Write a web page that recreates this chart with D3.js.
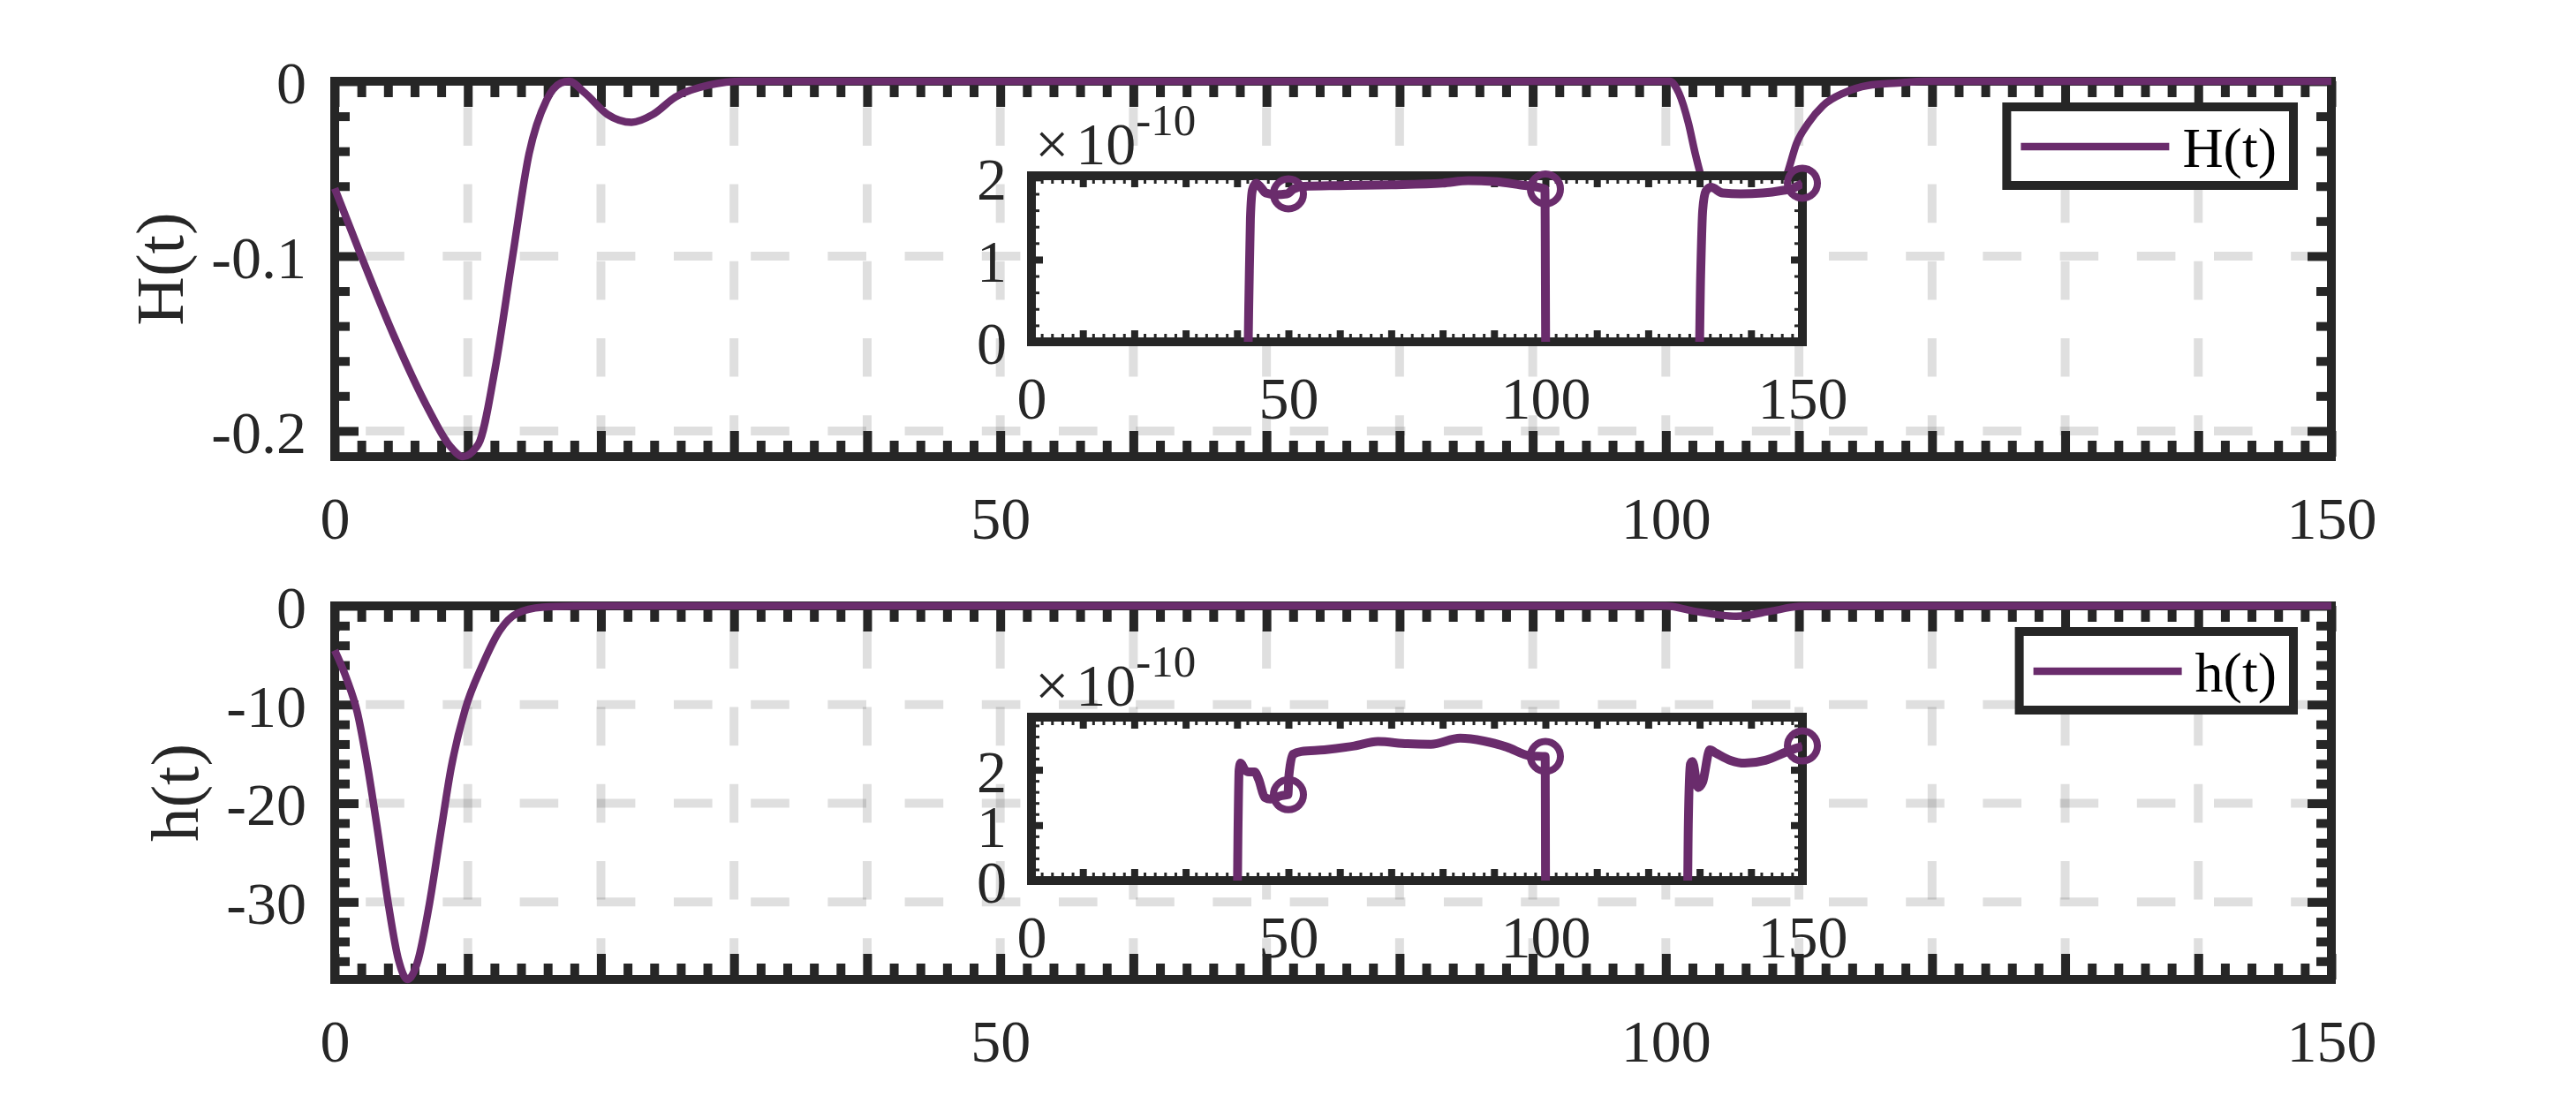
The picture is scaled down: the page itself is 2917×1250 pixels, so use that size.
<!DOCTYPE html>
<html>
<head>
<meta charset="utf-8">
<script src="https://cdn.jsdelivr.net/npm/d3@7/dist/d3.min.js"></script>
<style>
  body { margin: 0; background: #fff; }
  svg { display: block; font-family: "Liberation Serif", "Times New Roman", serif; }
</style>
</head>
<body>
<svg id="chart" width="2917" height="1250"></svg>
<script>
// ---- data ----
// H(t), main axes
const tH = [0, 1.93, 4.47, 7.0, 8.7, 9.62, 10.8, 12.06, 13.35, 14.6, 15.9, 17.0, 17.6, 18.8, 20.5, 22.3, 23.9, 25.6, 28.1, 30.7,
  100.3, 101.0, 101.7, 102.2, 102.6, 104, 106, 108, 109.2, 109.8, 110.7, 111.8, 113.4, 115.2, 117.4, 119.5, 150];
const valH = [-0.0612, -0.0988, -0.146, -0.187, -0.209, -0.2147, -0.2075, -0.164, -0.101, -0.0415, -0.011, -0.001, 0, -0.0067, -0.019, -0.0235, -0.019, -0.009, -0.0022, 0,
  0, -0.007, -0.024, -0.041, -0.053, -0.08, -0.09, -0.075, -0.051, -0.036, -0.024, -0.014, -0.0066, -0.0024, -0.001, 0, 0];

// H(t), inset (units of 1e-10)
const tHin = [0, 42.0, 42.3, 42.6, 43.0, 43.7, 44.6, 45.6, 47.5, 49.7, 51.0, 53.0, 60, 70, 80, 85, 90, 95, 99.9, 100.1,
  129.8, 130.2, 130.6, 131.2, 132.2, 134.5, 138, 142.3, 146, 148.3, 150];
const valHin = [-0.5, -0.5, 0.5, 1.5, 1.85, 1.93, 1.88, 1.81, 1.79, 1.80, 1.86, 1.89, 1.90, 1.91, 1.93, 1.96, 1.95, 1.91, 1.86, -0.5,
  -0.5, 0.8, 1.6, 1.83, 1.88, 1.81, 1.80, 1.81, 1.84, 1.87, 1.93];

// h(t), main axes
const th = [0, 0.9, 1.7, 2.45, 3.25, 4.04, 4.8, 5.47, 6.26, 7.05, 7.96, 8.75, 9.8, 11.1, 12.4, 13.7, 15.6, 18, 20,
  100, 102, 105.3, 108, 110, 112, 150];
const valh = [-4.5, -7.4, -10.8, -16.1, -23.0, -30.3, -35.9, -37.85, -35.9, -30.7, -23.0, -16.4, -10.5, -6.0, -2.5, -0.76, -0.13, -0.02, 0,
  0, -0.5, -1.05, -0.5, -0.05, 0, 0];

// h(t), inset (units of 1e-10)
const thin = [0, 40.0, 40.2, 40.4, 40.7, 41.5, 42.3, 43.4, 44.2, 45.4, 46.5, 48.5, 49.9, 50.1, 50.9, 52.5, 57, 62.8, 67.4, 73.1, 77.7, 83.4, 88, 92.5, 97.1, 99.95, 100.05,
  127.6, 127.8, 128.2, 128.6, 129.7, 130.6, 132.0, 133.2, 136, 138.8, 142.8, 146.8, 150];
const valhin = [-0.5, -0.5, 1.0, 2.0, 2.12, 2.0, 1.96, 1.96, 1.83, 1.50, 1.47, 1.53, 1.55, 1.9, 2.28, 2.33, 2.36, 2.43, 2.51, 2.47, 2.46, 2.57, 2.52, 2.41, 2.25, 2.24, -0.5,
  -0.5, 1.0, 2.1, 2.15, 1.68, 1.78, 2.36, 2.3, 2.17, 2.12, 2.17, 2.32, 2.43];

// circle markers on the insets
const markT = [50, 100, 150];
const markH = [1.80, 1.86, 1.93];
const markh = [1.55, 2.24, 2.43];

// ticks / labels
const xLabels = [0, 50, 100, 150];
const yTicksH = [0, -0.1, -0.2];
const yTicksh = [0, -10, -20, -30];
const yTicksIn = [0, 1, 2];

const purple = "#6a2c6c";
const ink = "#262626";
const svg = d3.select("#chart");

const left = 379, right = 2640;
const x = d3.scaleLinear().domain([0, 150]).range([left, right]);
const xMajor = d3.range(0, 151, 10);
const xMinor = d3.range(0, 151, 2).filter((d) => d % 10 !== 0);
const fmt = (d) => (xLabels.includes(d) ? String(d) : "");

function styleAxis(g, width) {
  g.select(".domain").remove();
  g.selectAll(".tick line").attr("stroke", ink).attr("stroke-width", width);
  g.selectAll(".tick text")
    .attr("fill", ink)
    .attr("font-size", 68)
    .attr("font-family", "Liberation Serif");
}

function drawPanel(cfg) {
  const panel = svg.append("g");
  const y = d3.scaleLinear().domain(cfg.yDomain).range([cfg.bottom, cfg.top]);

  // grid
  const grid = panel.append("g")
    .attr("stroke", ink)
    .attr("stroke-opacity", 0.15)
    .attr("stroke-width", 10)
    .attr("stroke-dasharray", "43.6 43.6");
  grid.selectAll(".gx")
    .data(xMajor.slice(1, -1))
    .join("line")
    .attr("x1", (d) => x(d)).attr("x2", (d) => x(d))
    .attr("y1", cfg.bottom).attr("y2", cfg.top)
    .attr("stroke-dashoffset", 84);
  grid.selectAll(".gy")
    .data(cfg.yTicks.filter((d) => d !== 0))
    .join("line")
    .attr("x1", left).attr("x2", right)
    .attr("y1", (d) => y(d)).attr("y2", (d) => y(d))
    .attr("stroke-dashoffset", 52);

  // ticks (inward, on all four sides)
  const gb = panel.append("g").attr("transform", `translate(0,${cfg.bottom})`);
  gb.call(d3.axisBottom(x).tickValues(xMinor).tickSize(-18).tickFormat(""));
  gb.call((g) => styleAxis(g, 10));
  const gbM = panel.append("g").attr("transform", `translate(0,${cfg.bottom})`);
  gbM.call(d3.axisBottom(x).tickValues(xMajor).tickSize(-29).tickPadding(45).tickFormat(fmt));
  gbM.call((g) => styleAxis(g, 10));

  const gt = panel.append("g").attr("transform", `translate(0,${cfg.top})`);
  gt.call(d3.axisTop(x).tickValues(xMinor).tickSize(-18).tickFormat(""));
  gt.call((g) => styleAxis(g, 10));
  const gtM = panel.append("g").attr("transform", `translate(0,${cfg.top})`);
  gtM.call(d3.axisTop(x).tickValues(xMajor).tickSize(-29).tickFormat(""));
  gtM.call((g) => styleAxis(g, 10));

  const gl = panel.append("g").attr("transform", `translate(${left},0)`);
  gl.call(d3.axisLeft(y).tickValues(cfg.yMinor).tickSize(-17).tickFormat(""));
  gl.call((g) => styleAxis(g, 10));
  const glM = panel.append("g").attr("transform", `translate(${left},0)`);
  glM.call(d3.axisLeft(y).tickValues(cfg.yTicks).tickSize(-27).tickPadding(32).tickFormat((d) => String(d)));
  glM.call((g) => styleAxis(g, 10));
  glM.selectAll(".tick text").attr("dy", "0.36em");

  const gr = panel.append("g").attr("transform", `translate(${right},0)`);
  gr.call(d3.axisRight(y).tickValues(cfg.yMinor).tickSize(-17).tickFormat(""));
  gr.call((g) => styleAxis(g, 10));
  const grM = panel.append("g").attr("transform", `translate(${right},0)`);
  grM.call(d3.axisRight(y).tickValues(cfg.yTicks).tickSize(-27).tickFormat(""));
  grM.call((g) => styleAxis(g, 10));

  // frame
  panel.append("rect")
    .attr("x", left).attr("y", cfg.top)
    .attr("width", right - left).attr("height", cfg.bottom - cfg.top)
    .attr("fill", "none").attr("stroke", ink).attr("stroke-width", 10)
    .attr("stroke-linejoin", "miter");

  // y label
  const lbLeft = d3.min(glM.selectAll(".tick text").nodes(), (n) => n.getBBox().x) + left;
  panel.append("text")
    .attr("transform", `translate(${lbLeft - 32},${(cfg.top + cfg.bottom) / 2}) rotate(-90)`)
    .attr("text-anchor", "middle")
    .attr("font-size", 77)
    .attr("fill", ink)
    .text(cfg.label);

  // main curve
  const line = d3.line().x((d, i) => x(cfg.t[i])).y((d) => y(d)).curve(d3.curveMonotoneX);
  panel.append("path")
    .attr("d", line(cfg.v))
    .attr("fill", "none").attr("stroke", purple).attr("stroke-width", 8.5)
    .attr("stroke-linejoin", "round");

  // legend
  const lg = panel.append("g");
  const boxRight = right - 43, boxTop = cfg.top + 29;
  const lgText = lg.append("text")
    .attr("font-size", 64).attr("fill", "#000")
    .attr("y", boxTop + 68)
    .text(cfg.label);
  const tw = lgText.node().getComputedTextLength();
  const textStart = boxRight - 19 - tw;
  lgText.attr("x", textStart);
  const lineEnd = textStart - 15, lineStart = lineEnd - 168;
  lg.insert("rect", "text")
    .attr("x", lineStart - 16).attr("y", boxTop)
    .attr("width", boxRight - lineStart + 16).attr("height", 89)
    .attr("fill", "#fff").attr("stroke", ink).attr("stroke-width", 10);
  lg.append("line")
    .attr("x1", lineStart).attr("x2", lineEnd)
    .attr("y1", boxTop + 45).attr("y2", boxTop + 45)
    .attr("stroke", purple).attr("stroke-width", 8.5);

  drawInset(panel, cfg.inset);
}

function drawInset(panel, ins) {
  const iL = 1168, iR = 2041;
  const xi = d3.scaleLinear().domain([0, 150]).range([iL, iR]);
  const yi = d3.scaleLinear().domain([0, ins.yMax]).range([ins.bottom, ins.top]);
  const g = panel.append("g");
  g.append("rect")
    .attr("x", iL).attr("y", ins.top)
    .attr("width", iR - iL).attr("height", ins.bottom - ins.top)
    .attr("fill", "#fff");

  const yMinor = d3.range(0, ins.yMax, 0.2).filter((d) => Math.abs(d - Math.round(d)) > 1e-6);

  const b1 = g.append("g").attr("transform", `translate(0,${ins.bottom})`)
    .call(d3.axisBottom(xi).tickValues(xMinor).tickSize(-9).tickFormat(""));
  styleAxis(b1, 3);
  const b2 = g.append("g").attr("transform", `translate(0,${ins.bottom})`)
    .call(d3.axisBottom(xi).tickValues(xMajor).tickSize(-13).tickPadding(39).tickFormat(fmt));
  styleAxis(b2, 8);
  const t1 = g.append("g").attr("transform", `translate(0,${ins.top})`)
    .call(d3.axisTop(xi).tickValues(xMinor).tickSize(-9).tickFormat(""));
  styleAxis(t1, 3);
  const t2 = g.append("g").attr("transform", `translate(0,${ins.top})`)
    .call(d3.axisTop(xi).tickValues(xMajor).tickSize(-13).tickFormat(""));
  styleAxis(t2, 8);
  const l1 = g.append("g").attr("transform", `translate(${iL},0)`)
    .call(d3.axisLeft(yi).tickValues(yMinor).tickSize(-9).tickFormat(""));
  styleAxis(l1, 3);
  const l2 = g.append("g").attr("transform", `translate(${iL},0)`)
    .call(d3.axisLeft(yi).tickValues(yTicksIn).tickSize(-13).tickPadding(28).tickFormat((d) => String(d)));
  styleAxis(l2, 8);
  l2.selectAll(".tick text").attr("dy", "0.36em");
  const r1 = g.append("g").attr("transform", `translate(${iR},0)`)
    .call(d3.axisRight(yi).tickValues(yMinor).tickSize(-9).tickFormat(""));
  styleAxis(r1, 3);
  const r2 = g.append("g").attr("transform", `translate(${iR},0)`)
    .call(d3.axisRight(yi).tickValues(yTicksIn).tickSize(-13).tickFormat(""));
  styleAxis(r2, 8);

  g.append("rect")
    .attr("x", iL).attr("y", ins.top)
    .attr("width", iR - iL).attr("height", ins.bottom - ins.top)
    .attr("fill", "none").attr("stroke", ink).attr("stroke-width", 10);

  // exponent label
  const ex = g.append("text")
    .attr("x", iL + 4).attr("y", ins.top - 13)
    .attr("font-size", 68).attr("fill", ink);
  ex.append("tspan").text("\u00d7");
  ex.append("tspan").attr("dx", 8).text("10");
  ex.append("tspan").attr("font-size", 51).attr("dy", -33).text("-10");

  // clipped inset curve
  const clipId = "clip" + ins.id;
  g.append("clipPath").attr("id", clipId)
    .append("rect")
    .attr("x", iL).attr("y", ins.top - 40)
    .attr("width", iR - iL).attr("height", ins.bottom - ins.top + 40);
  const line = d3.line().x((d, i) => xi(ins.t[i])).y((d) => yi(d)).curve(d3.curveMonotoneX);
  g.append("path")
    .attr("clip-path", `url(#${clipId})`)
    .attr("d", line(ins.v))
    .attr("fill", "none").attr("stroke", purple).attr("stroke-width", 10)
    .attr("stroke-linejoin", "round");

  g.selectAll(".mk")
    .data(ins.mv)
    .join("circle")
    .attr("cx", (d, i) => xi(markT[i]))
    .attr("cy", (d) => yi(d))
    .attr("r", 17)
    .attr("fill", "none").attr("stroke", purple).attr("stroke-width", 8);
}

drawPanel({
  top: 92, bottom: 517,
  yDomain: [-0.2147, 0],
  yTicks: yTicksH,
  yMinor: d3.range(-0.2, 0.001, 0.02).map((d) => +d.toFixed(2)).filter((d) => !yTicksH.includes(d)),
  t: tH, v: valH, label: "H(t)",
  inset: { id: "a", top: 199, bottom: 387, yMax: 2.02, t: tHin, v: valHin, mv: markH },
});

drawPanel({
  top: 686, bottom: 1109,
  yDomain: [-37.85, 0],
  yTicks: yTicksh,
  yMinor: d3.range(-36, 0.1, 2).filter((d) => !yTicksh.includes(d)),
  t: th, v: valh, label: "h(t)",
  inset: { id: "b", top: 812, bottom: 997, yMax: 2.95, t: thin, v: valhin, mv: markh },
});
</script>
</body>
</html>
